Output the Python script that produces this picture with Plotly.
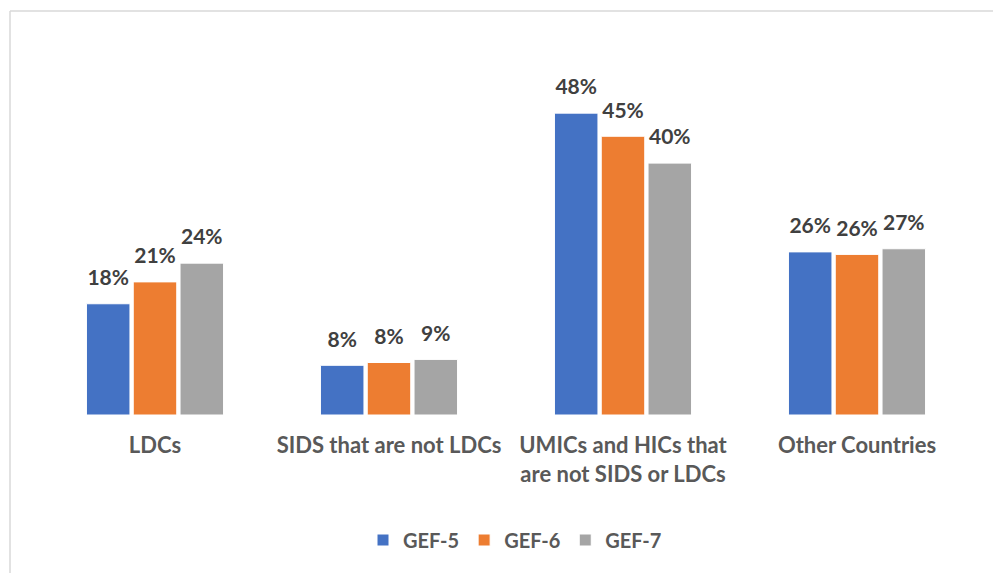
import plotly.graph_objects as go

categories = ["LDCs", "SIDS that are not LDCs", "UMICs and HICs that<br>are not SIDS or LDCs", "Other Countries"]
series_names = ["GEF-5", "GEF-6", "GEF-7"]
gef5 = [0.178, 0.0795, 0.483, 0.261]
gef6 = [0.213, 0.084, 0.446, 0.257]
gef7 = [0.243, 0.089, 0.403, 0.266]
colors = ["#4472C4", "#ED7D31", "#A5A5A5"]

W, H = 993, 573
ml, mr, mt, mb = 38, 19, 40, 158
pw = W - ml - mr
ph = H - mt - mb

fig = go.Figure()
for name, vals, c in zip(series_names, [gef5, gef6, gef7], colors):
    fig.add_trace(go.Bar(
        x=categories, y=vals, name=name,
        marker=dict(color=c, line=dict(color="white", width=1)),
        hoverinfo="skip",
    ))
for name, vals in zip(series_names, [gef5, gef6, gef7]):
    fig.add_trace(go.Scatter(
        x=categories, y=vals, name=name + " labels",
        mode="markers+text", showlegend=False,
        marker=dict(size=20, opacity=0, color="white"),
        texttemplate="%{y:.0%}", textposition="top center",
        textfont=dict(family="Lato", size=21, color="#404040", weight="bold"),
        cliponaxis=False, hoverinfo="skip",
    ))

def px_to_paper_x(px):
    return (px - ml) / pw

def px_to_paper_y(py):
    return (H - mb - py) / ph

fig.add_shape(type="line", xref="paper", yref="paper",
              x0=px_to_paper_x(10), x1=px_to_paper_x(1000),
              y0=px_to_paper_y(11), y1=px_to_paper_y(11),
              line=dict(color="#D9D9D9", width=1.5))
fig.add_shape(type="line", xref="paper", yref="paper",
              x0=px_to_paper_x(10), x1=px_to_paper_x(10),
              y0=px_to_paper_y(11), y1=px_to_paper_y(580),
              line=dict(color="#D9D9D9", width=1.5))

fig.update_layout(
    width=W, height=H,
    margin=dict(l=ml, r=mr, t=mt, b=mb, autoexpand=False),
    paper_bgcolor="white", plot_bgcolor="white",
    barmode="group", bargap=0.4, bargroupgap=0.07,
    scattermode="group", scattergap=0.4,
    font=dict(family="Lato", size=18, color="#595959"),
    xaxis=dict(showgrid=False, showline=False, zeroline=False, ticks="",
               tickfont=dict(family="Lato", size=22, color="#595959", weight="bold"),
               ticklabelstandoff=15),
    yaxis=dict(range=[0, 0.6], visible=False, showgrid=False, zeroline=False),
    legend=dict(orientation="h", x=px_to_paper_x(515), xanchor="center", y=px_to_paper_y(540), yanchor="middle",
                font=dict(family="Lato", size=20, color="#595959", weight="bold"),
                itemwidth=30, traceorder="normal"),
    showlegend=True,
)

fig.write_html("out.html", config={"displayModeBar": False},
               post_script="document.body.style.margin='0';")
